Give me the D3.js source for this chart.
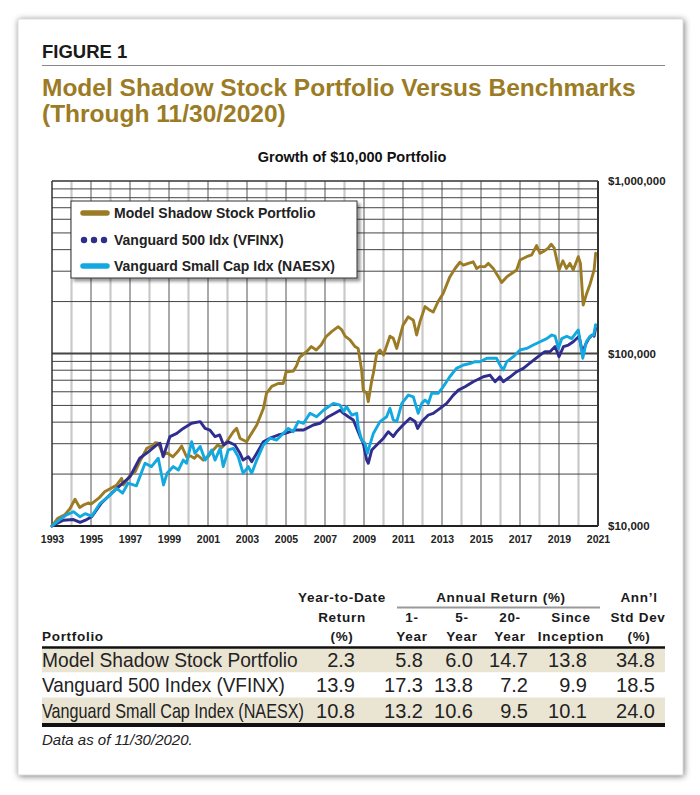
<!DOCTYPE html>
<html><head><meta charset="utf-8">
<script src="https://cdn.jsdelivr.net/npm/d3@7"></script>
<style>
body{margin:0;background:#fff}
svg{display:block}
text{font-family:"Liberation Sans",Arial,Helvetica,sans-serif}
</style>
</head><body>
<svg id="c" width="700" height="795"></svg>
<script>
// ---------- data ----------
const seriesNames = ["Model Shadow Stock Portfolio","Vanguard 500 Idx (VFINX)","Vanguard Small Cap Idx (NAESX)"];

const shadowStock = [
[1993.0,10000],[1993.3,11100],[1993.65,11600],[1993.92,12600],[1994.18,14300],[1994.42,12800],[1994.6,13200],[1994.86,13600],
[1995.0,13400],[1995.4,14500],[1995.7,15800],[1996.0,16500],[1996.3,17200],[1996.57,18900],[1996.66,17300],[1996.85,18500],
[1997.0,19700],[1997.26,20600],[1997.5,23600],[1997.86,28200],[1998.1,29000],[1998.3,30400],[1998.45,30200],[1998.7,25800],
[1998.9,26500],[1999.2,25200],[1999.45,27000],[1999.65,29100],[1999.9,25200],[2000.1,25500],[2000.3,24700],[2000.45,25800],
[2000.76,24100],[2001.0,25200],[2001.27,27600],[2001.5,29500],[2001.7,28500],[2001.96,30800],[2002.3,35200],[2002.47,36800],
[2002.64,32300],[2002.8,31500],[2002.98,30800],[2003.15,33200],[2003.5,38500],[2003.84,48000],[2004.0,58800],[2004.27,64500],
[2004.6,67000],[2004.86,67000],[2005.0,78000],[2005.37,79000],[2005.54,85000],[2005.7,95000],[2006.05,102500],[2006.3,109700],
[2006.55,104800],[2006.8,112000],[2007.05,125000],[2007.34,134000],[2007.68,143000],[2007.86,137000],[2008.03,126000],[2008.28,120000],
[2008.54,109700],[2008.7,107000],[2008.88,80000],[2008.96,61300],[2009.14,58800],[2009.22,52600],[2009.4,70000],[2009.48,76800],
[2009.65,100000],[2009.82,104800],[2010.0,98000],[2010.33,126000],[2010.5,122500],[2010.68,107000],[2011.0,146000],[2011.27,163000],
[2011.53,156000],[2011.7,128000],[2011.87,153000],[2012.13,187000],[2012.38,178000],[2012.55,174000],[2012.8,200000],[2013.06,223000],
[2013.4,278000],[2013.67,311000],[2013.92,338000],[2014.1,325000],[2014.35,333000],[2014.6,340000],[2014.78,311000],[2014.95,320000],
[2015.2,318000],[2015.38,333000],[2015.63,311000],[2015.9,278000],[2016.06,258000],[2016.32,278000],[2016.57,291000],[2016.83,305000],
[2017.0,348000],[2017.34,364000],[2017.6,373000],[2017.85,422000],[2018.03,381000],[2018.2,390000],[2018.45,408000],[2018.6,430000],
[2018.75,410000],[2018.87,356000],[2019.0,305000],[2019.2,345000],[2019.38,311000],[2019.56,333000],[2019.73,305000],[2019.99,364000],
[2020.1,333000],[2020.24,191000],[2020.42,223000],[2020.6,254000],[2020.8,305000],[2020.88,381000]
];

const vfinx = [
[1993.0,10000],[1993.3,10400],[1993.58,10800],[1994.1,10900],[1994.44,10500],[1994.78,10900],[1995.03,11300],[1995.54,13600],
[1996.06,15500],[1996.57,17500],[1997.0,19300],[1997.5,24700],[1997.94,26900],[1998.37,29500],[1998.54,30200],[1998.7,25200],
[1999.05,33000],[1999.4,34400],[1999.73,36800],[2000.16,39400],[2000.6,40300],[2000.85,36800],[2001.1,36000],[2001.36,33000],
[2001.6,33700],[2001.8,29500],[2002.04,30800],[2002.38,29500],[2002.64,26400],[2002.8,24100],[2003.07,25200],[2003.24,23600],
[2003.5,26400],[2003.84,30800],[2004.18,32300],[2004.6,33700],[2004.95,34400],[2005.46,36000],[2005.9,36000],[2006.4,38500],
[2006.74,39400],[2007.17,43000],[2007.5,45000],[2007.77,46900],[2007.95,45000],[2008.2,43000],[2008.45,41200],[2008.63,36800],
[2008.8,33000],[2008.96,30200],[2009.14,24100],[2009.22,23100],[2009.4,27600],[2009.65,29500],[2010.0,32300],[2010.25,35200],
[2010.5,33000],[2010.68,35200],[2011.0,38500],[2011.36,42100],[2011.62,40300],[2011.75,36800],[2011.96,40300],[2012.3,44000],
[2012.55,45000],[2012.9,48100],[2013.24,51400],[2013.58,57400],[2013.84,61300],[2014.18,64100],[2014.6,68600],[2015.12,73300],
[2015.46,75000],[2015.72,68600],[2015.97,73300],[2016.14,68600],[2016.5,73300],[2016.83,78400],[2017.17,82000],[2017.6,89600],
[2018.03,98000],[2018.28,102500],[2018.54,102500],[2018.8,109700],[2019.0,95800],[2019.23,109700],[2019.48,112000],[2019.73,117000],
[2020.03,126000],[2020.2,102000],[2020.4,115000],[2020.53,122000],[2020.7,128000],[2020.8,126000],[2020.88,140000]
];

const naesx = [
[1993.0,10000],[1993.4,10900],[1993.75,11600],[1994.1,12100],[1994.44,11300],[1994.7,11800],[1995.03,11400],[1995.46,13500],
[1995.97,15100],[1996.32,16500],[1996.62,15500],[1996.9,17700],[1997.33,17100],[1997.77,23100],[1998.1,22100],[1998.45,24700],
[1998.72,17300],[1998.9,20200],[1999.22,22100],[1999.48,21100],[1999.73,24100],[1999.9,23100],[2000.16,30800],[2000.33,26400],
[2000.6,28900],[2000.85,24100],[2001.19,27600],[2001.36,24100],[2001.62,28200],[2001.78,22100],[2002.04,27600],[2002.3,28200],
[2002.55,25200],[2002.8,20200],[2003.07,22100],[2003.24,20200],[2003.5,24100],[2003.84,29500],[2004.18,32300],[2004.52,31500],
[2004.78,33700],[2005.12,36800],[2005.37,35200],[2005.63,40300],[2005.9,39400],[2006.23,45000],[2006.57,43000],[2006.92,46900],
[2007.43,51400],[2007.77,50200],[2007.95,46000],[2008.1,49200],[2008.37,44000],[2008.63,45000],[2008.7,37600],[2008.88,31500],
[2009.05,30200],[2009.17,26400],[2009.48,34400],[2009.82,40300],[2010.16,43000],[2010.33,48100],[2010.5,41200],[2010.68,40300],
[2010.94,51400],[2011.27,57400],[2011.53,56000],[2011.78,45000],[2011.96,51400],[2012.13,53700],[2012.3,51400],[2012.47,58800],
[2012.8,58800],[2013.06,64100],[2013.4,73300],[2013.74,82000],[2014.1,85800],[2014.43,87500],[2014.7,89600],[2014.95,89600],
[2015.3,93800],[2015.8,93800],[2015.97,85800],[2016.14,80200],[2016.32,89600],[2016.66,95800],[2017.0,104800],[2017.34,107000],
[2017.68,112000],[2018.03,117000],[2018.37,122000],[2018.63,128000],[2018.8,126000],[2018.97,107000],[2019.14,122000],[2019.4,126000],
[2019.65,122000],[2019.99,137000],[2020.22,93800],[2020.4,117000],[2020.6,126000],[2020.78,128000],[2020.88,147000]
];

const xTickYears = [1993,1995,1997,1999,2001,2003,2005,2007,2009,2011,2013,2015,2017,2019,2021];
const yTickValues = [10000,100000,1000000];

const tablePortfolios = ["Model Shadow Stock Portfolio","Vanguard 500 Index (VFINX)","Vanguard Small Cap Index (NAESX)"];
const ytdReturn = ["2.3","13.9","10.8"];
const oneYear = ["5.8","17.3","13.2"];
const fiveYear = ["6.0","13.8","10.6"];
const twentyYear = ["14.7","7.2","9.5"];
const sinceInception = ["13.8","9.9","10.1"];
const stdDev = ["34.8","18.5","24.0"];

// ---------- drawing ----------
const svg = d3.select("#c");
const defs = svg.append("defs");
const f = defs.append("filter").attr("id","cardShadow").attr("x","-5%").attr("y","-5%").attr("width","110%").attr("height","110%");
f.append("feDropShadow").attr("dx",1).attr("dy",1).attr("stdDeviation",3).attr("flood-color","#000").attr("flood-opacity",0.55);
const f2 = defs.append("filter").attr("id","legShadow").attr("x","-10%").attr("y","-10%").attr("width","120%").attr("height","130%");
f2.append("feDropShadow").attr("dx",3).attr("dy",3).attr("stdDeviation",1.5).attr("flood-color","#000").attr("flood-opacity",0.4);

svg.append("rect").attr("x",18).attr("y",19).attr("width",665).attr("height",756)
  .attr("fill","#fff").attr("stroke","#bbb").attr("stroke-width",0.5).attr("filter","url(#cardShadow)");

const GOLD = "#9B7B24", NAVY = "#2F2E8E", CYAN = "#12A8E0";

svg.append("text").attr("x",42).attr("y",58).attr("font-size",18.5).attr("font-weight","bold").attr("fill","#1a1a1a").text("FIGURE 1");
svg.append("line").attr("x1",42).attr("x2",665).attr("y1",65.5).attr("y2",65.5).attr("stroke","#888").attr("stroke-width",1);
svg.append("text").attr("x",42).attr("y",96).attr("font-size",24.5).attr("font-weight","bold").attr("fill",GOLD)
  .text("Model Shadow Stock Portfolio Versus Benchmarks");
svg.append("text").attr("x",42).attr("y",122).attr("font-size",24.5).attr("font-weight","bold").attr("fill",GOLD)
  .text("(Through 11/30/2020)");
svg.append("text").attr("x",352).attr("y",162).attr("text-anchor","middle").attr("font-size",14.5).attr("font-weight","bold").attr("fill","#111")
  .text("Growth of $10,000 Portfolio");

// scales
const x = d3.scaleLinear().domain([1993,2021]).range([52,598]);
const y = d3.scaleLog().domain([10000,1000000]).range([526,181]);

const g = svg.append("g");
const allYears = d3.range(1994,2021);
g.selectAll("line.vl").data(allYears.filter(d=>d%2===0)).join("line")
  .attr("x1",d=>x(d)).attr("x2",d=>x(d)).attr("y1",y(1000000)).attr("y2",y(10000))
  .attr("stroke","#c9c9c9").attr("stroke-width",2.2);
g.selectAll("line.vd").data(allYears.filter(d=>d%2===1)).join("line")
  .attr("x1",d=>x(d)).attr("x2",d=>x(d)).attr("y1",y(1000000)).attr("y2",y(10000))
  .attr("stroke","#555").attr("stroke-width",1);
g.selectAll("line.h").data(y.ticks().filter(d=>d>10000 && d<1000000)).join("line")
  .attr("x1",x(1993)).attr("x2",x(2021)).attr("y1",d=>y(d)).attr("y2",d=>y(d))
  .attr("stroke","#444").attr("stroke-width",d=>d===100000?1.8:1);
g.append("line").attr("x1",x(1993)).attr("x2",x(2021)).attr("y1",y(1000000)).attr("y2",y(1000000)).attr("stroke","#333").attr("stroke-width",1.5);
g.append("line").attr("x1",x(1993)).attr("x2",x(2021)).attr("y1",y(10000)).attr("y2",y(10000)).attr("stroke","#222").attr("stroke-width",2);
g.append("line").attr("x1",x(1993)).attr("x2",x(1993)).attr("y1",y(1000000)).attr("y2",y(10000)).attr("stroke","#333").attr("stroke-width",1.5);
g.append("line").attr("x1",x(2021)).attr("x2",x(2021)).attr("y1",y(1000000)).attr("y2",y(10000)).attr("stroke","#333").attr("stroke-width",2);

// axes
const xAxis = svg.append("g").attr("transform",`translate(0,${y(10000)})`)
  .call(d3.axisBottom(x).tickValues(xTickYears).tickFormat(d3.format("d")).tickSize(0).tickPadding(10));
xAxis.select(".domain").remove();
xAxis.selectAll("text").attr("font-size",10.5).attr("font-weight","bold").attr("fill","#222")
  .attr("font-family",'"Liberation Sans",Arial,sans-serif');

const yAxis = svg.append("g").attr("transform",`translate(${x(2021)},0)`)
  .call(d3.axisRight(y).tickValues(yTickValues).tickFormat(d=>"$"+d3.format(",")(d)).tickSize(0).tickPadding(10));
yAxis.select(".domain").remove();
yAxis.selectAll("text").attr("font-size",11.5).attr("font-weight","bold").attr("fill","#222")
  .attr("font-family",'"Liberation Sans",Arial,sans-serif');

// lines
const line = d3.line().x(d=>x(d[0])).y(d=>y(d[1]));
const lineStyle = (p,c)=>p.attr("fill","none").attr("stroke",c).attr("stroke-width",2.9).attr("stroke-linejoin","round").attr("stroke-linecap","round");
svg.append("path").datum(shadowStock).attr("d",line).call(lineStyle,GOLD);
svg.append("path").datum(vfinx).attr("d",line).call(lineStyle,NAVY);
svg.append("path").datum(naesx).attr("d",line).call(lineStyle,CYAN);

// legend
const lg = svg.append("g");
lg.append("rect").attr("x",71).attr("y",201).attr("width",286).attr("height",77)
  .attr("fill","#fff").attr("stroke","#333").attr("stroke-width",1).attr("filter","url(#legShadow)");
const legY = [213,240,266];
lg.append("line").attr("x1",83).attr("x2",107).attr("y1",legY[0]).attr("y2",legY[0]).attr("stroke",GOLD).attr("stroke-width",5.5).attr("stroke-linecap","round");
lg.selectAll("circle").data([84,94,104]).join("circle").attr("cx",d=>d).attr("cy",legY[1]).attr("r",3.2).attr("fill",NAVY);
lg.append("line").attr("x1",83).attr("x2",107).attr("y1",legY[2]).attr("y2",legY[2]).attr("stroke",CYAN).attr("stroke-width",5.5).attr("stroke-linecap","round");
lg.selectAll("text").data(seriesNames).join("text").attr("x",114).attr("y",(d,i)=>legY[i]+5)
  .attr("font-size",14).attr("font-weight","bold").attr("fill","#222").text(d=>d);

// ---------- table ----------
const T = svg.append("g");
const hdr = (txt,xx,yy,anchor)=>T.append("text").attr("x",xx).attr("y",yy).attr("text-anchor",anchor||"middle")
  .attr("font-size",13.5).attr("font-weight","bold").attr("letter-spacing",0.7).attr("fill","#1a1a1a").text(txt);
hdr("Year-to-Date",342,602); hdr("Return",342,622); hdr("(%)",342,641);
hdr("Annual Return (%)",501,602);
T.append("line").attr("x1",397).attr("x2",600).attr("y1",607.5).attr("y2",607.5).attr("stroke","#999").attr("stroke-width",2);
hdr("1-",412,622); hdr("Year",412,641);
hdr("5-",462,622); hdr("Year",462,641);
hdr("20-",510,622); hdr("Year",510,641);
hdr("Since",571,622); hdr("Inception",571,641);
hdr("Ann\u2019l",639,602); hdr("Std Dev",638,622); hdr("(%)",639,641);
hdr("Portfolio",42,641,"start");

const rowTop = [648.5,672.5,697.5], rowH = [24,25,25.5], rowBase = [667,692,718];
T.selectAll("rect.band").data(tablePortfolios).join("rect")
  .attr("x",42).attr("width",623).attr("y",(d,i)=>rowTop[i]).attr("height",(d,i)=>rowH[i])
  .attr("fill",(d,i)=>i%2===0?"#EAE4D3":"#fff");
T.append("line").attr("x1",42).attr("x2",665).attr("y1",647.5).attr("y2",647.5).attr("stroke","#111").attr("stroke-width",2.5);
T.append("line").attr("x1",42).attr("x2",665).attr("y1",725).attr("y2",725).attr("stroke","#111").attr("stroke-width",4);

// row labels: horizontally scaled to the reference widths
const labelLen = [256,243,262];
tablePortfolios.forEach((d,i)=>{
  const gg = T.append("g");
  const t = gg.append("text").attr("x",0).attr("y",0).attr("font-size",20).attr("fill","#222").text(d);
  const natural = t.node().getComputedTextLength();
  gg.attr("transform",`translate(42,${rowBase[i]}) scale(${labelLen[i]/natural},1)`);
});
const cols = [[ytdReturn,355],[oneYear,423],[fiveYear,473],[twentyYear,528],[sinceInception,587],[stdDev,655]];
cols.forEach(([arr,xx])=>{
  arr.forEach((v,i)=>T.append("text").attr("x",xx).attr("y",rowBase[i]).attr("text-anchor","end")
    .attr("font-size",20).attr("fill","#222").text(v));
});
T.append("text").attr("x",42).attr("y",745).attr("font-size",15).attr("font-style","italic").attr("fill","#222")
  .text("Data as of 11/30/2020.");
</script>
</body></html>
